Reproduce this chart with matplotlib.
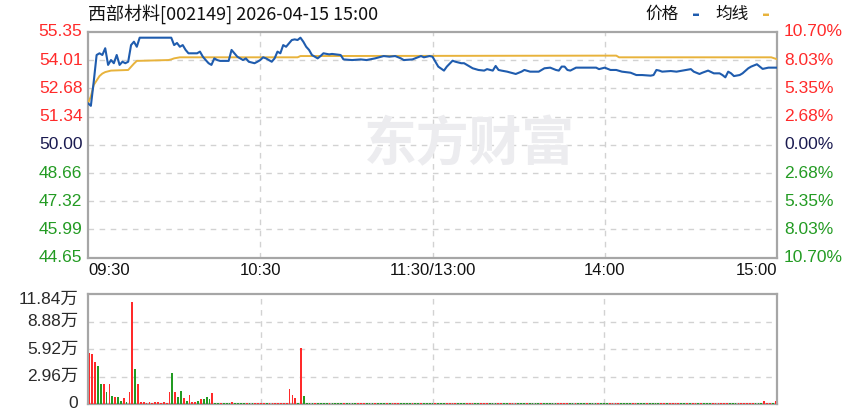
import matplotlib
matplotlib.use('Agg')
import matplotlib.pyplot as plt

# ---- data ----
title = '西部材料[002149] 2026-04-15 15:00'
pre_close = 50.00
price_ticks = [55.35, 54.01, 52.68, 51.34, 50.00, 48.66, 47.32, 45.99, 44.65]
pct_labels = ['10.70%', '8.03%', '5.35%', '2.68%', '0.00%', '2.68%', '5.35%', '8.03%', '10.70%']
vol_ticks = [0, 2.96, 5.92, 8.88, 11.84]
vol_labels = ['0', '2.96万', '5.92万', '8.88万', '11.84万']
time_pos = [0, 60, 120, 180, 240]
time_labels = ['09:30', '10:30', '11:30/13:00', '14:00', '15:00']

# price line: minute index -> price
price_min = [0, 1, 2, 3, 4, 5, 6, 7, 8, 9, 10, 11, 12, 13, 14, 15, 16, 17, 18, 29,
             30, 31, 32, 33, 34, 35, 38, 39, 40, 41, 42, 43, 44, 45, 46, 49, 50, 51, 52, 53,
             54, 55, 56, 58, 59, 60, 61, 62, 64, 65, 66, 67, 68, 69, 70, 71, 72, 73, 74, 75,
             76, 77, 78, 80, 81, 82, 84, 85, 88, 89, 92, 95, 97, 100, 103, 105, 107, 109, 110, 113,
             116, 117, 119, 120, 121, 122, 124, 125, 127, 128, 130, 131, 133, 134, 136, 138, 139, 141, 142, 143,
             144, 146, 149, 151, 152, 154, 157, 159, 161, 163, 164, 165, 166, 167, 168, 170, 177, 178, 180, 182,
             184, 186, 189, 191, 193, 196, 197, 198, 199, 200, 203, 205, 207, 210, 211, 213, 214, 216, 218, 220,
             221, 222, 223, 224, 225, 227, 228, 230, 231, 233, 234, 235, 237, 240]
price_val = [51.97, 51.85, 53.00, 54.26, 54.34, 54.26, 54.58, 53.79, 54.02, 53.87, 54.26, 53.79, 53.94, 53.87, 53.94, 54.73, 54.89, 54.65, 55.08, 55.08,
             54.73, 54.83, 54.65, 54.73, 54.50, 54.34, 54.34, 54.42, 54.18, 54.02, 53.87, 53.79, 54.10, 54.02, 53.98, 53.98, 54.50, 54.34, 54.18, 54.10,
             54.02, 54.10, 53.94, 53.87, 53.94, 54.02, 54.15, 54.10, 53.94, 54.10, 54.42, 54.34, 54.73, 54.65, 54.81, 54.97, 55.00, 54.97, 55.08, 54.89,
             54.65, 54.50, 54.26, 54.10, 54.21, 54.34, 54.29, 54.31, 54.26, 54.05, 54.02, 54.05, 54.02, 54.10, 54.21, 54.18, 54.21, 54.10, 54.02, 54.05,
             54.21, 54.15, 54.21, 54.18, 53.94, 53.71, 53.52, 53.71, 53.99, 53.94, 53.87, 53.87, 53.71, 53.63, 53.55, 53.52, 53.59, 53.52, 53.74, 53.55,
             53.52, 53.47, 53.36, 53.47, 53.55, 53.47, 53.47, 53.63, 53.66, 53.55, 53.52, 53.71, 53.71, 53.55, 53.52, 53.66, 53.66, 53.59, 53.66, 53.55,
             53.55, 53.47, 53.42, 53.31, 53.31, 53.28, 53.31, 53.55, 53.52, 53.47, 53.50, 53.47, 53.52, 53.59, 53.47, 53.36, 53.42, 53.52, 53.39, 53.39,
             53.31, 53.20, 53.47, 53.39, 53.26, 53.31, 53.39, 53.63, 53.71, 53.82, 53.71, 53.60, 53.66, 53.66]

# average price line
avg_min = [0, 1, 2, 3, 4, 5, 6, 8, 14, 15, 16, 17, 28, 29, 30, 32, 73, 74, 184, 185, 238, 240]
avg_val = [51.97, 52.30, 52.84, 53.05, 53.26, 53.38, 53.45, 53.52, 53.55, 53.70, 53.85, 53.98,
           54.02, 54.05, 54.10, 54.15, 54.15, 54.21, 54.23, 54.15, 54.15, 54.06]

# volume per minute (万)
volume = [5.53, 5.35, 4.56, 4.09, 2.12, 2.12, 1.33, 2.12, 0.86, 0.79, 0.70, 0.36, 0.61, 0.18, 1.26, 10.94, 3.73, 2.12,
          0.18, 0.18, 0.15, 0.18, 0.15, 0.18, 0.18, 0.15, 0.18, 0.15,
          1.26, 3.37, 1.26, 0.79, 1.44, 0.61, 0.32, 0.97, 0.18, 0.18, 0.36, 0.50, 0.50, 0.79, 0.50, 1.15,
          0.15, 0.12, 0.15, 0.15, 0.12, 0.15, 0.18, 0.12, 0.15, 0.15, 0.12, 0.15, 0.15, 0.12, 0.15, 0.12,
          0.15, 0.15, 0.12, 0.15, 0.15, 0.12, 0.15, 0.12, 0.15, 0.15,
          1.61, 0.97, 0.68, 0.15, 5.99, 0.86,
          0.15, 0.12, 0.15, 0.12, 0.12, 0.15, 0.12, 0.15, 0.12, 0.12, 0.15, 0.12, 0.12, 0.15, 0.12,
          0.12, 0.15, 0.12, 0.12, 0.15, 0.12, 0.12, 0.15, 0.12, 0.12, 0.12, 0.15, 0.12, 0.12, 0.12,
          0.15, 0.12, 0.12, 0.12, 0.15, 0.12, 0.12, 0.15, 0.12, 0.12, 0.15, 0.12, 0.12, 0.12, 0.15,
          0.12, 0.12, 0.15, 0.12, 0.12, 0.15, 0.12, 0.12, 0.12, 0.15, 0.12, 0.12, 0.15, 0.12, 0.12,
          0.12, 0.15, 0.12, 0.12, 0.15, 0.12, 0.12, 0.12, 0.15, 0.12, 0.12, 0.15, 0.12, 0.12, 0.12,
          0.15, 0.12, 0.12, 0.12, 0.15, 0.12, 0.12, 0.15, 0.12, 0.12, 0.12, 0.15, 0.12, 0.12, 0.15,
          0.12, 0.12, 0.15, 0.12, 0.12, 0.12, 0.15, 0.12, 0.12, 0.15, 0.12, 0.12, 0.12, 0.15, 0.12,
          0.12, 0.15, 0.12, 0.12, 0.12, 0.15, 0.12, 0.12, 0.15, 0.12, 0.12, 0.12, 0.15, 0.12, 0.12,
          0.15, 0.12, 0.12, 0.12, 0.15, 0.12, 0.12, 0.15, 0.12, 0.12, 0.15, 0.12, 0.12, 0.12, 0.15,
          0.12, 0.12, 0.15, 0.12, 0.12, 0.12, 0.15, 0.12, 0.12, 0.15, 0.12, 0.12, 0.15, 0.12, 0.12,
          0.15, 0.12, 0.12, 0.15, 0.12, 0.12, 0.12, 0.15, 0.12, 0.12, 0.30, 0.15, 0.12, 0.12, 0.30]
# r = up minute (red), g = down minute (green)
direction = ("rrrggrgrgrggrgrrgr" + "rrrrrrrrrr" + "rgrggrgrrrgrgggr"
             + "ggrgggrggggrgg" + "rrrrgrrrrrrr" + "rrrgrg"
             + "gggrggggrggggrg" + "gggrrrgggrgggrg" + "rrrggggrggrgggg"
             + "rgggrrrrgggrrrg" + "grrrgggrrggrrrg" + "ggrggggrgggggrr"
             + "rrggrgggrgggrgg" + "grrrrggggrrgggr" + "ggggrrgrrrrggrg"
             + "rrgrgggrrrrrrgg" + "grrrrrrgggrrrgr")

# ---- drawing ----
RED = '#ff2a2a'
GREEN = '#239b23'
DARK = '#1a1a50'
GRID = '#d2d2d2'
SPINE = '#a6a6a6'
num_font = ['Liberation Sans', 'Noto Sans CJK SC']
cjk_font = ['Noto Sans CJK SC', 'DejaVu Sans']

W, H = 865, 413
fig = plt.figure(figsize=(W / 100, H / 100), dpi=100)
ax = fig.add_axes([88 / W, 1 - 257.7 / H, 689 / W, 225.7 / H])
axv = fig.add_axes([88 / W, 1 - 404 / H, 689 / W, 110 / H])

for a in (ax, axv):
    a.set_xticks([])
    a.set_yticks([])
    for s in a.spines.values():
        s.set_color(SPINE)
        s.set_linewidth(1.6)

# price panel
ax.set_xlim(0, 240)
ax.set_ylim(price_ticks[-1], price_ticks[0])
for p in price_ticks[1:-1]:
    ax.axhline(p, color=GRID, lw=1, dashes=(4, 4), zorder=0)
for t in time_pos[1:-1]:
    ax.axvline(t, color=GRID, lw=1, dashes=(4, 4), zorder=0)

# watermark
ax.text(0.553, 0.50, '东方财富', transform=ax.transAxes, ha='center', va='center',
        fontsize=38, fontweight='bold', color='#ececef', family=cjk_font, zorder=0)

ax.plot(avg_min, avg_val, color='#e8b33c', lw=1.4, zorder=3)
ax.plot(price_min, price_val, color='#1f5cae', lw=1.5, zorder=4)

ytr = ax.get_yaxis_transform()
for p, lab in zip(price_ticks, pct_labels):
    if p > pre_close:
        c = RED
    elif p < pre_close:
        c = GREEN
    else:
        c = DARK
    ax.text(-0.008, p, f'{p:.2f}', transform=ytr, ha='right', va='center',
            fontsize=12.5, color=c, family=num_font)
    ax.text(1.010, p, lab, transform=ytr, ha='left', va='center',
            fontsize=12.5, color=c, family=num_font)

xtr = ax.get_xaxis_transform()
for t, lab in zip(time_pos, time_labels):
    ha = 'left' if t == 0 else ('right' if t == 240 else 'center')
    ax.text(t, -0.058, lab, transform=xtr, ha=ha, va='center',
            fontsize=12, color='#111111', family=num_font)

fig.text(88 / W, 1 - 14 / H, title, ha='left', va='center', fontsize=13,
         color='#111111', family=cjk_font)
fig.text(662 / W, 1 - 14 / H, '价格', ha='center', va='center', fontsize=12,
         color='#111111', family=cjk_font)
fig.text(696 / W, 1 - 14 / H, '-', ha='center', va='center', fontsize=14,
         color='#1f5cae', fontweight='bold')
fig.text(732 / W, 1 - 14 / H, '均线', ha='center', va='center', fontsize=12,
         color='#111111', family=cjk_font)
fig.text(766 / W, 1 - 14 / H, '-', ha='center', va='center', fontsize=14,
         color='#e8b33c', fontweight='bold')

# volume panel
n = len(volume)
axv.set_xlim(-0.5, n - 0.5)
axv.set_ylim(0, vol_ticks[-1])
for v in vol_ticks[1:-1]:
    axv.axhline(v, color=GRID, lw=1, dashes=(4, 4), zorder=0)
for t in time_pos[1:-1]:
    axv.axvline(t, color=GRID, lw=1, dashes=(4, 4), zorder=0)
colors = [RED if d == 'r' else GREEN for d in direction]
axv.bar(range(n), volume, width=0.62, color=colors, zorder=3)

vtr = axv.get_yaxis_transform()
for v, lab in zip(vol_ticks, vol_labels):
    dy = -4 if v == vol_ticks[-1] else 0
    axv.annotate(lab, (-0.014, v), xycoords=vtr, xytext=(0, dy), textcoords='offset points',
                 ha='right', va='center', fontsize=12.5, color='#2a2a2a', family=num_font)

fig.savefig('out.png', dpi=100, facecolor='white')
